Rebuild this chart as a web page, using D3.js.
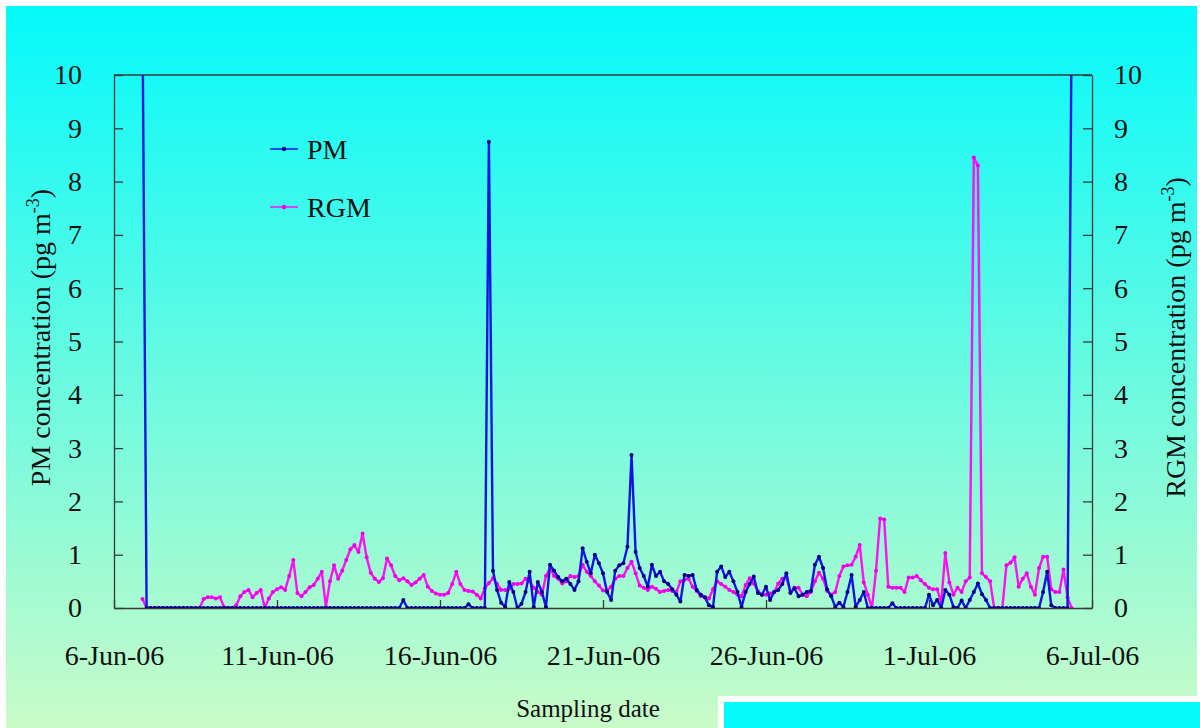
<!DOCTYPE html>
<html>
<head>
<meta charset="utf-8">
<script src="https://cdn.jsdelivr.net/npm/d3@7"></script>
<style>
body { margin: 0; background: #fff; }
svg { display: block; font-family: "Liberation Serif", "Times New Roman", serif; }
</style>
</head>
<body>
<svg width="1200" height="728"></svg>
<script>
// sampling times: every 3 hours starting 6-Jun-06 21:00
var startTime = new Date(2006, 5, 6, 21);
var stepHours = 3;

// PM concentration (pg m-3), one row per day
var pmValues = [
  11,
  0, 0, 0, 0, 0, 0, 0, 0,
  0, 0, 0, 0, 0, 0, 0, 0,
  0, 0, 0, 0, 0, 0, 0, 0,
  0, 0, 0, 0, 0, 0, 0, 0,
  0, 0, 0, 0, 0, 0, 0, 0,
  0, 0, 0, 0, 0, 0, 0, 0,
  0, 0, 0, 0, 0, 0, 0, 0,
  0, 0, 0, 0, 0, 0, 0, 0.15,
  0, 0, 0, 0, 0, 0, 0, 0,
  0, 0, 0, 0, 0, 0, 0, 0.07,
  0, 0, 0, 0, 8.75, 0.7, 0.34, 0.1,
  0.02, 0.49, 0.3, 0, 0.08, 0.3, 0.68, 0.02,
  0.49, 0.3, 0.02, 0.81, 0.7, 0.58, 0.5, 0.55,
  0.45, 0.34, 0.5, 1.12, 0.87, 0.65, 1.0, 0.84,
  0.65, 0.3, 0.15, 0.7, 0.8, 0.84, 1.15, 2.87,
  1.05, 0.75, 0.6, 0.4, 0.81, 0.6, 0.68, 0.5,
  0.45, 0.35, 0.25, 0.12, 0.62, 0.6, 0.62, 0.34,
  0.25, 0.2, 0.05, 0.02, 0.68, 0.78, 0.58, 0.68,
  0.5, 0.3, 0.02, 0.3, 0.45, 0.59, 0.28, 0.25,
  0.4, 0.15, 0.3, 0.34, 0.45, 0.65, 0.28, 0.37,
  0.22, 0.25, 0.3, 0.32, 0.81, 0.96, 0.75, 0.35,
  0.22, 0.02, 0.1, 0.02, 0.3, 0.62, 0.02, 0.15,
  0.3, 0, 0, 0, 0, 0, 0, 0.09,
  0, 0, 0, 0, 0, 0, 0, 0,
  0.25, 0.05, 0.15, 0, 0.34, 0.25, 0.02, 0,
  0.14, 0, 0.15, 0.3, 0.46, 0.26, 0.15, 0,
  0, 0, 0, 0, 0, 0, 0, 0,
  0, 0, 0, 0, 0.3, 0.68, 0.05, 0,
  0, 0, 0, 11
];

// RGM concentration (pg m-3), one row per day
var rgmValues = [
  0.17,
  0, 0, 0, 0, 0, 0, 0, 0,
  0, 0, 0, 0, 0, 0, 0.17, 0.2,
  0.2, 0.18, 0.2, 0.02, 0, 0, 0.05, 0.22,
  0.3, 0.34, 0.2, 0.28, 0.34, 0, 0.18, 0.3,
  0.35, 0.39, 0.34, 0.6, 0.9, 0.28, 0.22, 0.3,
  0.39, 0.43, 0.55, 0.68, 0.02, 0.5, 0.8, 0.55,
  0.7, 0.9, 1.1, 1.18, 1.05, 1.4, 0.95, 0.66,
  0.55, 0.49, 0.56, 0.93, 0.8, 0.6, 0.52, 0.56,
  0.5, 0.43, 0.48, 0.55, 0.62, 0.4, 0.32, 0.27,
  0.25, 0.25, 0.28, 0.45, 0.68, 0.45, 0.34, 0.32,
  0.31, 0.25, 0.18, 0.37, 0.47, 0.56, 0.45, 0.34,
  0.34, 0.36, 0.45, 0.45, 0.46, 0.55, 0.5, 0.38,
  0.3, 0.25, 0.6, 0.75, 0.6, 0.55, 0.46, 0.5,
  0.6, 0.58, 0.6, 0.81, 0.68, 0.6, 0.5, 0.42,
  0.33, 0.32, 0.4, 0.55, 0.6, 0.6, 0.75, 0.87,
  0.65, 0.42, 0.38, 0.34, 0.4, 0.36, 0.3, 0.32,
  0.34, 0.32, 0.3, 0.5, 0.53, 0.55, 0.4, 0.32,
  0.22, 0.2, 0.18, 0.35, 0.5, 0.45, 0.4, 0.34,
  0.3, 0.25, 0.22, 0.43, 0.56, 0.46, 0.32, 0.25,
  0.25, 0.27, 0.3, 0.46, 0.55, 0.58, 0.3, 0.38,
  0.38, 0.25, 0.22, 0.3, 0.5, 0.66, 0.55, 0.32,
  0.25, 0.3, 0.6, 0.78, 0.8, 0.81, 0.96, 1.18,
  0.48, 0.25, 0, 0.7, 1.68, 1.66, 0.4, 0.38,
  0.38, 0.38, 0.3, 0.57, 0.57, 0.6, 0.52, 0.45,
  0.38, 0.35, 0.35, 0.1, 1.03, 0.48, 0.25, 0.38,
  0.3, 0.5, 0.57, 8.45, 8.3, 0.65, 0.58, 0.5,
  0, 0, 0, 0.8, 0.85, 0.95, 0.4, 0.55,
  0.65, 0.4, 0.25, 0.75, 0.96, 0.96, 0.35, 0.3,
  0.3, 0.72, 0.2, 0
];

var tickDates = ["2006-06-06", "2006-06-11", "2006-06-16", "2006-06-21",
                 "2006-06-26", "2006-07-01", "2006-07-06"];
var yTicks = [0, 1, 2, 3, 4, 5, 6, 7, 8, 9, 10];

var svg = d3.select("svg"),
    width = +svg.attr("width"),
    height = +svg.attr("height");

var plot = {left: 114, right: 1092, top: 75, bottom: 608};

// background gradient
var defs = svg.append("defs");
var grad = defs.append("linearGradient")
    .attr("id", "bg")
    .attr("x1", 0).attr("y1", 0).attr("x2", 0).attr("y2", 1);
grad.append("stop").attr("offset", "0%").attr("stop-color", "#04f9fb");
grad.append("stop").attr("offset", "100%").attr("stop-color", "#c9fbc8");

defs.append("clipPath").attr("id", "plotclip")
  .append("rect")
    .attr("x", plot.left).attr("y", plot.top)
    .attr("width", plot.right - plot.left)
    .attr("height", plot.bottom - plot.top);

svg.append("rect").attr("width", width).attr("height", height).attr("fill", "#fff");
svg.append("rect")
    .attr("x", 6).attr("y", 6)
    .attr("width", 1191).attr("height", 722)
    .attr("fill", "url(#bg)");

// box at the bottom right
svg.append("rect")
    .attr("x", 721).attr("y", 699)
    .attr("width", 490).attr("height", 60)
    .attr("fill", "#06f9fb")
    .attr("stroke", "#fff")
    .attr("stroke-width", 6);

var parseDate = d3.timeParse("%Y-%m-%d");

var x = d3.scaleTime()
    .domain([new Date(2006, 5, 6), new Date(2006, 6, 6)])
    .range([plot.left, plot.right]);

var yLeft = d3.scaleLinear().domain([0, 10]).range([plot.bottom, plot.top]);
var yRight = d3.scaleLinear().domain([0, 10]).range([plot.bottom, plot.top]);

var pm = pmValues.map(function(v, i) {
  return {t: d3.timeHour.offset(startTime, i * stepHours), v: v};
});
var rgm = rgmValues.map(function(v, i) {
  return {t: d3.timeHour.offset(startTime, i * stepHours), v: v};
});

// axes
var axisColor = "#3a3a3a";

var gx = svg.append("g")
    .attr("transform", "translate(0," + plot.bottom + ")")
    .call(d3.axisBottom(x)
        .tickValues(tickDates.map(parseDate))
        .tickFormat(d3.timeFormat("%-d-%b-%y"))
        .tickSize(-8)
        .tickSizeOuter(0)
        .tickPadding(37));

var gl = svg.append("g")
    .attr("transform", "translate(" + plot.left + ",0)")
    .call(d3.axisLeft(yLeft)
        .tickValues(yTicks)
        .tickSize(-9)
        .tickSizeOuter(0)
        .tickPadding(32));

var gr = svg.append("g")
    .attr("transform", "translate(" + plot.right + ",0)")
    .call(d3.axisRight(yRight)
        .tickValues(yTicks)
        .tickSize(-9)
        .tickSizeOuter(0)
        .tickPadding(22));

[gx, gl, gr].forEach(function(g) {
  g.selectAll("path, line").attr("stroke", axisColor).attr("stroke-width", 1.3);
  g.selectAll("text")
    .attr("fill", "#111")
    .style("font-family", "Liberation Serif, serif")
    .style("font-size", "28px");
});

// top border of the plot frame
svg.append("line")
    .attr("x1", plot.left).attr("x2", plot.right)
    .attr("y1", plot.top).attr("y2", plot.top)
    .attr("stroke", axisColor).attr("stroke-width", 1.3);

// series
var series = [
  {name: "RGM", data: rgm, y: yRight, line: "#ff10f0", dot: "#f000e8"},
  {name: "PM", data: pm, y: yLeft, line: "#1414e0", dot: "#000080"}
];

var plotArea = svg.append("g").attr("clip-path", "url(#plotclip)");

series.forEach(function(s) {
  var line = d3.line()
      .x(function(d) { return x(d.t); })
      .y(function(d) { return s.y(d.v); });

  plotArea.append("path")
      .datum(s.data)
      .attr("fill", "none")
      .attr("stroke", s.line)
      .attr("stroke-width", 2.4)
      .attr("stroke-linejoin", "round")
      .attr("d", line);

  plotArea.append("g")
    .selectAll("circle")
    .data(s.data)
    .enter().append("circle")
      .attr("cx", function(d) { return x(d.t); })
      .attr("cy", function(d) { return s.y(d.v); })
      .attr("r", 2)
      .attr("fill", s.dot);
});

// legend
var legend = svg.append("g");
var legendItems = [
  {label: "PM", line: "#1414e0", dot: "#000080", y: 149},
  {label: "RGM", line: "#ff10f0", dot: "#f000e8", y: 207}
];
legendItems.forEach(function(d) {
  legend.append("line")
      .attr("x1", 270).attr("x2", 298)
      .attr("y1", d.y).attr("y2", d.y)
      .attr("stroke", d.line).attr("stroke-width", 1.5);
  legend.append("circle")
      .attr("cx", 284).attr("cy", d.y).attr("r", 2.2)
      .attr("fill", d.dot);
  legend.append("text")
      .attr("x", 307).attr("y", d.y + 10)
      .attr("fill", "#111")
      .style("font-size", "28px")
      .text(d.label);
});

// axis titles
function axisTitle(txt, xPos) {
  var t = svg.append("text")
      .attr("transform", "translate(" + xPos + "," + ((plot.top + plot.bottom) / 2 - 4) + ") rotate(-90)")
      .attr("text-anchor", "middle")
      .attr("fill", "#111")
      .style("font-size", "28px");
  t.append("tspan").text(txt + " (pg m");
  t.append("tspan").attr("dy", -11).style("font-size", "18px").text("-3");
  t.append("tspan").attr("dy", 11).text(")");
}
axisTitle("PM concentration", 50);
axisTitle("RGM concentration", 1185);

svg.append("text")
    .attr("x", 588).attr("y", 717)
    .attr("text-anchor", "middle")
    .attr("fill", "#111")
    .style("font-size", "25px")
    .text("Sampling date");
</script>
</body>
</html>
